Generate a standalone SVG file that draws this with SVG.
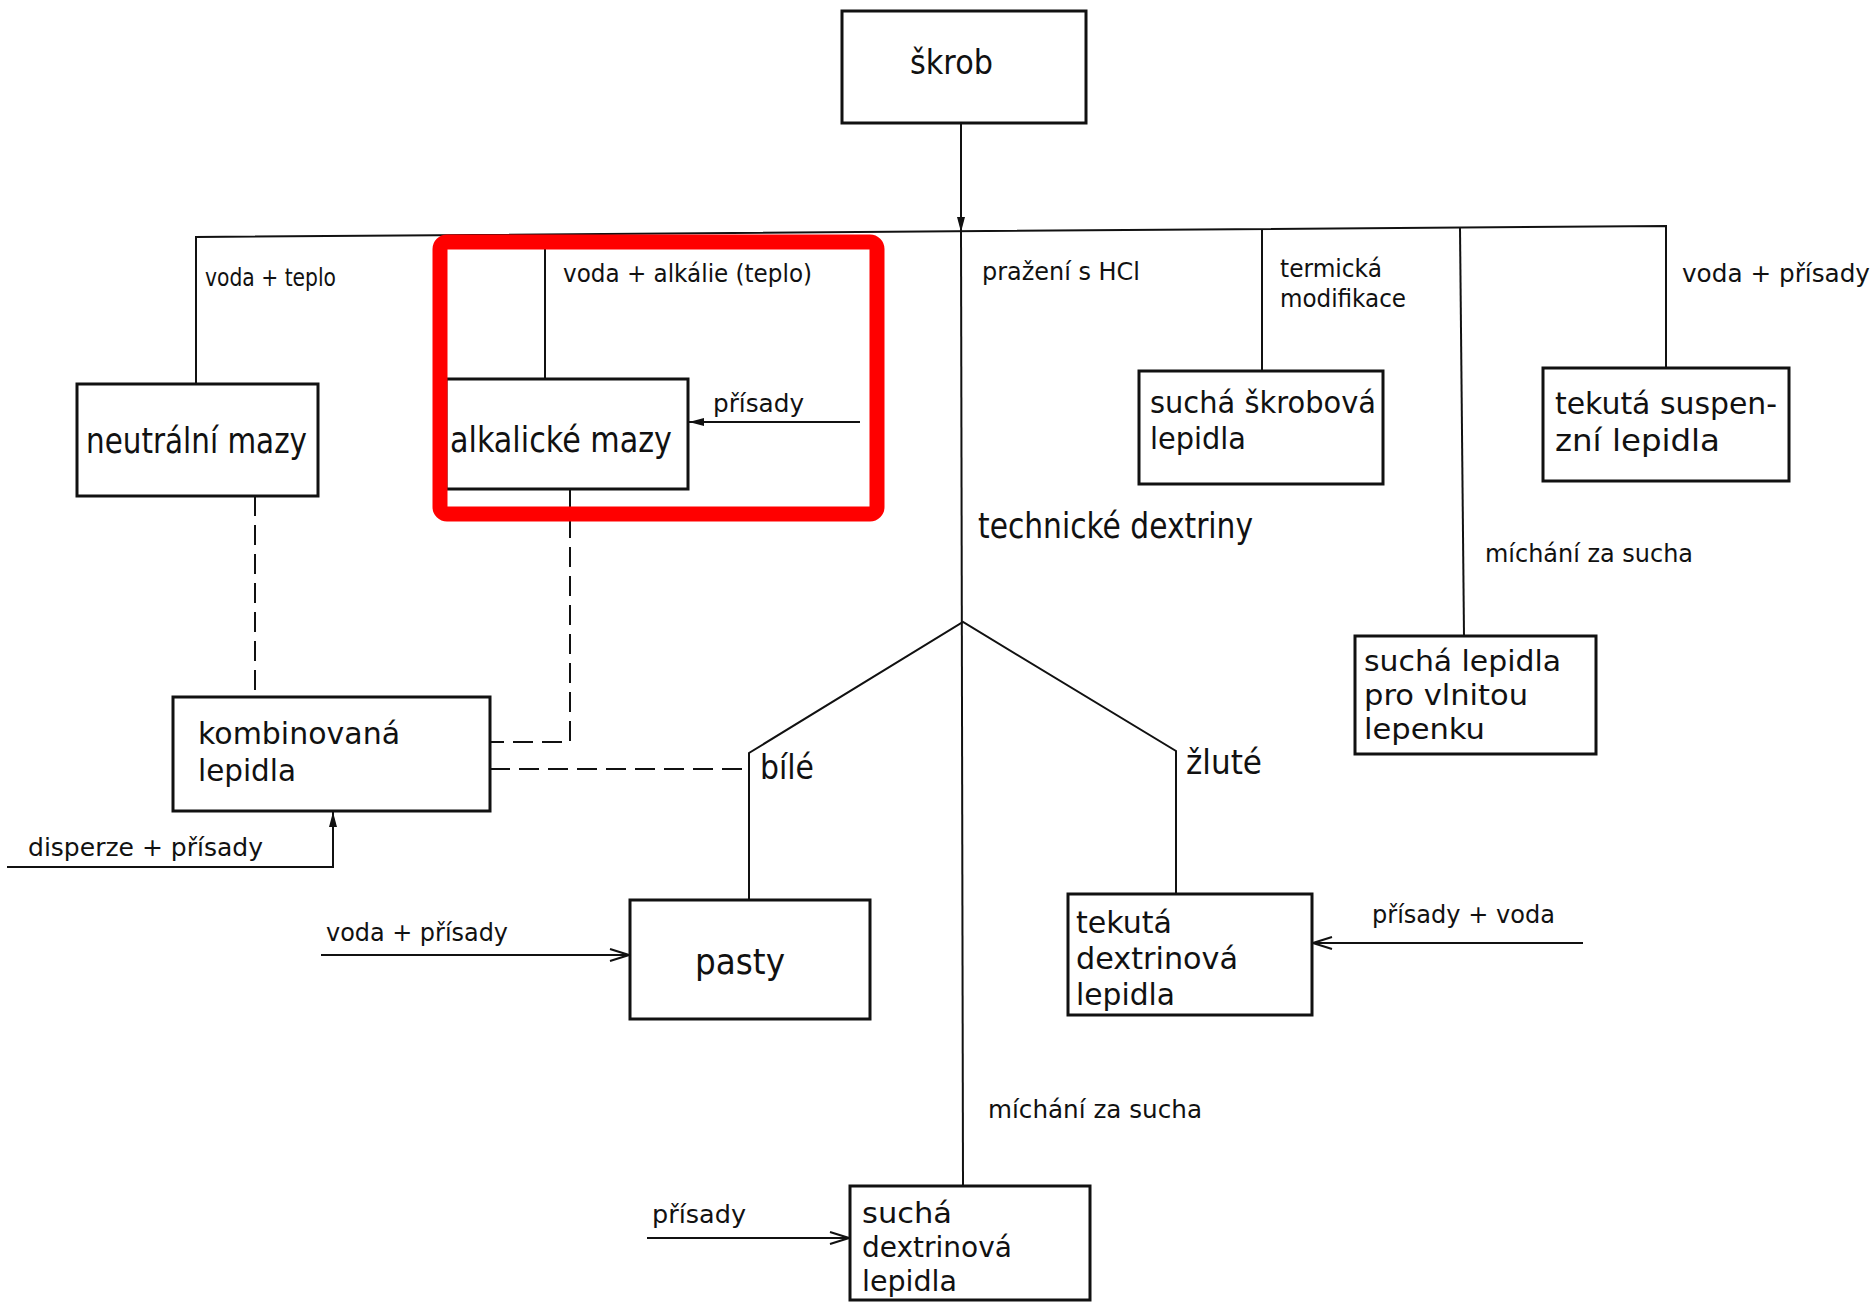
<svg xmlns="http://www.w3.org/2000/svg" width="1875" height="1304" viewBox="0 0 1875 1304">
<style>
  .box { fill: none; stroke: #111; stroke-width: 3; }
  .ln { fill: none; stroke: #111; stroke-width: 2; }
  .dash { fill: none; stroke: #111; stroke-width: 2; stroke-dasharray: 20 9; }
  text { font-family: "DejaVu Sans", "Liberation Sans", sans-serif; fill: #111; }
  .big { font-size: 36px; }
  .ml { font-size: 31px; }
  .ms { font-size: 28px; }
  .mid { font-size: 33px; }
  .sm { font-size: 25px; }
  .hl { fill: none; stroke: #ff0000; stroke-width: 15; }
</style>
<defs>
  <marker id="fill" markerUnits="userSpaceOnUse" markerWidth="16" markerHeight="10" refX="15" refY="5" orient="auto">
    <path d="M0,1 L15,5 L0,9 z" fill="#111"/>
  </marker>
  <marker id="open" markerUnits="userSpaceOnUse" markerWidth="22" markerHeight="16" refX="20" refY="8" orient="auto">
    <path d="M1,2 L20,8 L1,14" fill="none" stroke="#111" stroke-width="2"/>
  </marker>
</defs>
<rect width="1875" height="1304" fill="#fff"/>

<g id="connectors">
  <line class="ln" x1="961" y1="123" x2="961" y2="232" marker-end="url(#fill)"/>
  <path class="ln" d="M196,384 V237 L1666,226 V368"/>
  <line class="ln" x1="961" y1="231" x2="963" y2="1186"/>
  <line class="ln" x1="545" y1="234" x2="545" y2="379"/>
  <line class="ln" x1="1262" y1="229" x2="1262" y2="371"/>
  <line class="ln" x1="1460" y1="228" x2="1464" y2="636"/>
  <path class="ln" d="M749,900 V753 L963,622 L1176,751 V894"/>
  <path class="dash" d="M255,496 V697"/>
  <path class="dash" d="M570,489 V742 H490"/>
  <path class="dash" d="M490,769 H749"/>
  <line class="ln" x1="860" y1="422" x2="689" y2="422" marker-end="url(#fill)"/>
  <path class="ln" d="M7,867 H333 V812" marker-end="url(#fill)"/>
  <line class="ln" x1="321" y1="955" x2="629" y2="955" marker-end="url(#open)"/>
  <line class="ln" x1="1583" y1="943" x2="1313" y2="943" marker-end="url(#open)"/>
  <line class="ln" x1="647" y1="1238" x2="849" y2="1238" marker-end="url(#open)"/>
</g>

<g id="labels">
  <text class="sm" x="205" y="286" textLength="131" lengthAdjust="spacingAndGlyphs">voda + teplo</text>
  <text class="sm" x="563" y="282" textLength="249" lengthAdjust="spacingAndGlyphs">voda + alkálie  (teplo)</text>
  <text class="sm" x="982" y="280" textLength="158" lengthAdjust="spacingAndGlyphs">pražení s HCl</text>
  <text class="sm" x="1280" y="277" textLength="102" lengthAdjust="spacingAndGlyphs">termická</text>
  <text class="sm" x="1280" y="307" textLength="126" lengthAdjust="spacingAndGlyphs">modifikace</text>
  <text class="sm" x="1682" y="282" textLength="188" lengthAdjust="spacingAndGlyphs">voda + přísady</text>
  <text class="sm" x="713" y="412" textLength="91" lengthAdjust="spacingAndGlyphs">přísady</text>
  <text class="big" x="978" y="538" textLength="275" lengthAdjust="spacingAndGlyphs">technické dextriny</text>
  <text class="sm" x="1485" y="562" textLength="208" lengthAdjust="spacingAndGlyphs">míchání za sucha</text>
  <text class="mid" x="760" y="779" textLength="54" lengthAdjust="spacingAndGlyphs">bílé</text>
  <text class="mid" x="1186" y="774" textLength="76" lengthAdjust="spacingAndGlyphs">žluté</text>
  <text class="sm" x="28" y="856" textLength="235" lengthAdjust="spacingAndGlyphs">disperze + přísady</text>
  <text class="sm" x="326" y="941" textLength="182" lengthAdjust="spacingAndGlyphs">voda + přísady</text>
  <text class="sm" x="1372" y="923" textLength="183" lengthAdjust="spacingAndGlyphs">přísady + voda</text>
  <text class="sm" x="988" y="1118" textLength="214" lengthAdjust="spacingAndGlyphs">míchání za sucha</text>
  <text class="sm" x="652" y="1223" textLength="94" lengthAdjust="spacingAndGlyphs">přísady</text>
</g>

<g id="skrob">
  <rect class="box" x="842" y="11" width="244" height="112"/>
  <text class="mid" x="910" y="74" textLength="83" lengthAdjust="spacingAndGlyphs">škrob</text>
</g>
<g id="neutralni-mazy">
  <rect class="box" x="77" y="384" width="241" height="112"/>
  <text class="big" x="86" y="453" textLength="221" lengthAdjust="spacingAndGlyphs">neutrální mazy</text>
</g>
<g id="alkalicke-mazy">
  <rect class="box" x="446" y="379" width="242" height="110"/>
  <text class="big" x="450" y="452" textLength="222" lengthAdjust="spacingAndGlyphs">alkalické mazy</text>
</g>
<g id="sucha-skrobova-lepidla">
  <rect class="box" x="1139" y="371" width="244" height="113"/>
  <text class="ml" x="1150" y="413" textLength="226" lengthAdjust="spacingAndGlyphs">suchá škrobová</text>
  <text class="ml" x="1150" y="449" textLength="96" lengthAdjust="spacingAndGlyphs">lepidla</text>
</g>
<g id="tekuta-suspenzni-lepidla">
  <rect class="box" x="1543" y="368" width="246" height="113"/>
  <text class="ml" x="1555" y="414" textLength="222" lengthAdjust="spacingAndGlyphs">tekutá suspen-</text>
  <text class="ml" x="1555" y="451" textLength="165" lengthAdjust="spacingAndGlyphs">zní lepidla</text>
</g>
<g id="sucha-lepidla-pro-vlnitou-lepenku">
  <rect class="box" x="1355" y="636" width="241" height="118"/>
  <text class="ms" x="1364" y="671" textLength="197" lengthAdjust="spacingAndGlyphs">suchá lepidla</text>
  <text class="ms" x="1364" y="705" textLength="164" lengthAdjust="spacingAndGlyphs">pro vlnitou</text>
  <text class="ms" x="1364" y="739" textLength="121" lengthAdjust="spacingAndGlyphs">lepenku</text>
</g>
<g id="kombinovana-lepidla">
  <rect class="box" x="173" y="697" width="317" height="114"/>
  <text class="ml" x="198" y="744" textLength="202" lengthAdjust="spacingAndGlyphs">kombinovaná</text>
  <text class="ml" x="198" y="781" textLength="98" lengthAdjust="spacingAndGlyphs">lepidla</text>
</g>
<g id="pasty">
  <rect class="box" x="630" y="900" width="240" height="119"/>
  <text class="big" x="695" y="974" textLength="90" lengthAdjust="spacingAndGlyphs">pasty</text>
</g>
<g id="tekuta-dextrinova-lepidla">
  <rect class="box" x="1068" y="894" width="244" height="121"/>
  <text class="ml" x="1076" y="933" textLength="96" lengthAdjust="spacingAndGlyphs">tekutá</text>
  <text class="ml" x="1076" y="969" textLength="162" lengthAdjust="spacingAndGlyphs">dextrinová</text>
  <text class="ml" x="1076" y="1005" textLength="99" lengthAdjust="spacingAndGlyphs">lepidla</text>
</g>
<g id="sucha-dextrinova-lepidla">
  <rect class="box" x="850" y="1186" width="240" height="114"/>
  <text class="ms" x="862" y="1223" textLength="90" lengthAdjust="spacingAndGlyphs">suchá</text>
  <text class="ms" x="862" y="1257" textLength="150" lengthAdjust="spacingAndGlyphs">dextrinová</text>
  <text class="ms" x="862" y="1291" textLength="95" lengthAdjust="spacingAndGlyphs">lepidla</text>
</g>

<g id="highlight">
  <rect class="hl" x="440" y="242" width="437" height="272" rx="7"/>
</g>
</svg>
